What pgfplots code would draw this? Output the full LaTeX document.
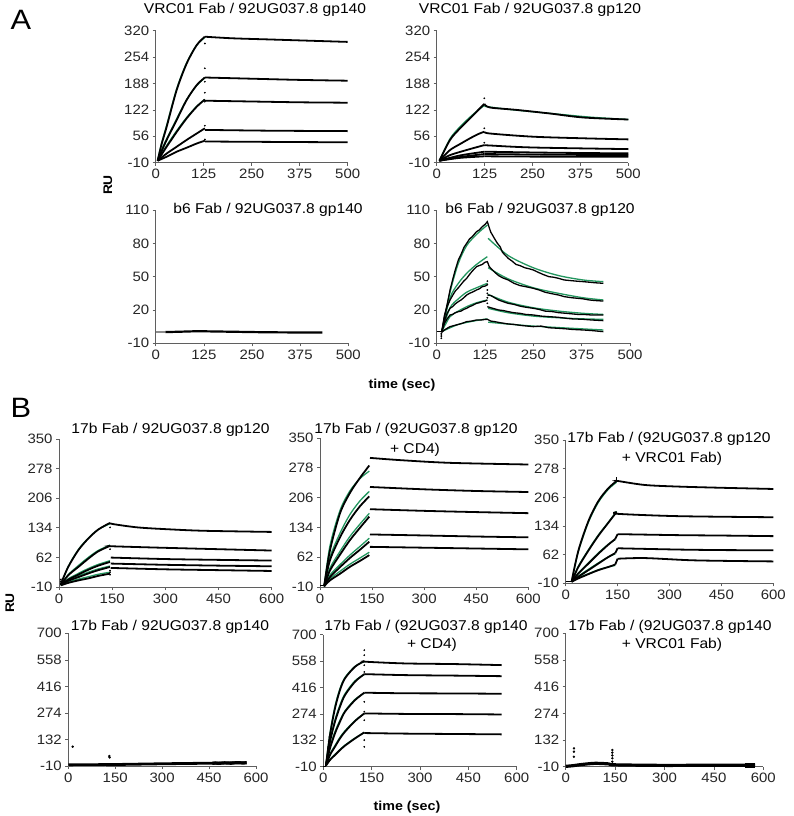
\documentclass[border=0pt]{standalone}
\usepackage{pgfplots}
\pgfplotsset{compat=1.18}
\usepackage{fontspec}
\setmainfont{Liberation Sans}[FakeStretch=1.1]
\definecolor{axgray}{RGB}{95,95,95}
\definecolor{fitgreen}{RGB}{35,150,95}
\newcommand{\tk}{\fontsize{13.6}{15}\selectfont}
\newcommand{\ttl}{\fontsize{14.2}{16}\selectfont}
\pgfplotsset{
  sprbase/.style={scale only axis, axis lines=left,
    axis line style={-, draw=axgray, line width=0.8pt},
    tick style={draw=axgray, line width=0.7pt}, tick align=outside,
    major tick length=3pt, ticklabel style={font=\tk, text=black!85},
    clip=false, enlargelimits=false},
  blk/.style={black, line width=1.8pt, smooth, no marks},
  grn/.style={fitgreen, line width=1.3pt, smooth, no marks},
  dots/.style={only marks, mark=*, mark size=0.65pt, black},
}
\begin{document}
\begin{tikzpicture}
\path[use as bounding box] (0,0) rectangle (793pt,-816pt);
% ================= A1 =================
\begin{axis}[sprbase, at={(155.7pt,-162.7pt)}, anchor=south west, width=192pt, height=132pt,
  xmin=0,xmax=500,ymin=-10,ymax=320, xtick={0,125,250,375,500}, xticklabels={0,125,250,375,500},
  ytick={-10,56,122,188,254,320}, yticklabels={-10,56,122,188,254,320}]
\addplot[grn] coordinates {(5,-5)(15,38)(28.6,84)(54.7,175)(80.7,240)(106.8,284)(128,303)};
\addplot[grn] coordinates {(5,-5)(15,22)(28.6,50)(54.7,100)(80.7,148)(106.8,183)(128,202)};
\addplot[grn] coordinates {(5,-5)(15,12)(28.6,33)(54.7,70)(80.7,103)(106.8,131)(128,148)};
\addplot[blk] coordinates {(5,-5)(15,35)(28.6,80)(54.7,172)(80.7,238)(106.8,284)(128,305)};
\addplot[blk] coordinates {(128,305)(200,301)(300,298)(400,295)(500,292)};
\addplot[blk] coordinates {(5,-5)(15,18)(28.6,47)(54.7,97)(80.7,147)(106.8,184)(128,203)};
\addplot[blk] coordinates {(128,203)(250,200)(375,197)(500,195)};
\addplot[blk] coordinates {(5,-5)(15,10)(28.6,30)(54.7,67)(80.7,101)(106.8,130)(128,148)};
\addplot[blk] coordinates {(128,145)(250,143)(375,141)(500,140)};
\addplot[blk] coordinates {(5,-5)(28.6,13)(54.7,30)(80.7,47)(106.8,63)(128,76)};
\addplot[blk] coordinates {(128,72)(300,70)(500,69)};
\addplot[blk] coordinates {(5,-5)(28.6,5)(54.7,17.5)(80.7,27.5)(106.8,38)(128,45)};
\addplot[blk] coordinates {(128,43)(300,42)(500,41)};
\addplot[dots] coordinates {(128,288)(128,226)(128,192.5)(128,165)(128,142.5)(128,82.5)(128,48)};
\end{axis}
% ================= A2 =================
\begin{axis}[sprbase, at={(436.7pt,-162.7pt)}, anchor=south west, width=191.6pt, height=132pt,
  xmin=0,xmax=500,ymin=-10,ymax=320, xtick={0,125,250,375,500}, xticklabels={0,125,250,375,500},
  ytick={-10,56,122,188,254,320}, yticklabels={-10,56,122,188,254,320}]
\addplot[grn] coordinates {(7,-5)(34.8,50)(61,80)(87,104)(108.7,122)(124.3,133)};
\addplot[grn] coordinates {(124.3,131)(200,122)(300,113)(400,104)(500,98)};
\addplot[blk] coordinates {(7,-5)(34.8,47)(61,76)(87,101)(108.7,122)(124.3,137)};
\addplot[blk] coordinates {(124.3,137)(139,128)(208.7,122)(295.6,113)(382.6,103)(500,98)};
\addplot[blk] coordinates {(7,-5)(34.8,21.7)(61,36.7)(87,51)(108.7,61.7)(124.3,67.5)};
\addplot[blk] coordinates {(124.3,67.5)(139,63)(252,55)(382.6,51)(500,48.3)};
\addplot[blk] coordinates {(7,-5)(34.8,9)(78,21.7)(124.3,34)};
\addplot[blk] coordinates {(124.3,34)(139,33)(252,28)(500,24)};
\addplot[blk] coordinates {(7,-5)(60,8)(124.3,17.5)};
\addplot[blk] coordinates {(124.3,17.5)(300,15)(500,13.3)};
\addplot[blk] coordinates {(7,-5)(60,4)(124.3,11.7)};
\addplot[blk] coordinates {(124.3,11.7)(300,10)(500,9)};
\addplot[blk] coordinates {(7,-5)(60,2)(124.3,6)};
\addplot[blk] coordinates {(124.3,6)(300,5)(500,5)};
\addplot[dots] coordinates {(124.3,151)(124.3,76)(124.3,40)};
\end{axis}
% ================= A3 =================
\begin{axis}[sprbase, at={(155.7pt,-343.3pt)}, anchor=south west, width=192.6pt, height=133.3pt,
  xmin=0,xmax=500,ymin=-10,ymax=110, xtick={0,125,250,375,500}, xticklabels={0,125,250,375,500},
  ytick={-10,20,50,80,110}, yticklabels={-10,20,50,80,110}]
\addplot[black!45, line width=2pt] coordinates {(0,0)(25,0)};
\addplot[blk, line width=2.2pt] coordinates {(25,0.1)(60,0.4)(100,0.8)(125,0.8)(200,0.4)(300,-0.1)(433,-0.3)};
\end{axis}
% ================= A4 =================
\begin{axis}[sprbase, at={(436.7pt,-343.3pt)}, anchor=south west, width=193.3pt, height=133.3pt,
  xmin=0,xmax=500,ymin=-10,ymax=110, xtick={0,125,250,375,500}, xticklabels={0,125,250,375,500},
  ytick={-10,20,50,80,110}, yticklabels={-10,20,50,80,110}]
\addplot[black, line width=1.5pt] coordinates {(0,0.5)(12,0.5)};
\addplot[dots] coordinates {(12,-1)(12,-2.5)(12,-4)(12,-5.5)};
% fits
\addplot[grn] coordinates {(13,0.5)(34.5,36)(56,62)(77.6,78)(103,88)(131,96.5)};
\addplot[grn] coordinates {(133,84.5)(185,69)(250,58)(315,51)(379,47)(431,45.5)};
\addplot[grn] coordinates {(13,0.5)(34.5,31)(56,44)(77.6,53)(103,61)(131,68)};
\addplot[grn] coordinates {(133,58)(185,48)(250,40)(315,35)(379,31)(431,29)};
\addplot[grn] coordinates {(13,0.5)(34.5,22)(56,30)(77.6,36)(103,40)(131,44)};
\addplot[grn] coordinates {(133,34)(185,27)(250,22)(315,19)(379,17)(431,16)};
\addplot[grn] coordinates {(13,0.5)(34.5,14)(56,19)(77.6,23)(103,26.5)(131,29)};
\addplot[grn] coordinates {(133,21.5)(185,17.5)(250,14.5)(315,13)(379,12)(431,11.6)};
\addplot[grn] coordinates {(13,0.5)(56,7)(103,10.5)(131,12)};
\addplot[grn] coordinates {(133,9)(250,5.5)(431,2)};
% data
\addplot[black, line width=1.3pt] coordinates {(13,0)(20,14)(27,25)(34.5,38)(41,47)(48,56)(56,65)(63,70)(70,76)(77.6,80)(85,84)(92,86)(103,90.5)(110,92)(118,95)(125,97)(131,99.5)
 (136,94)(140,90)(150,84)(157,80)(164,77)(170,72)(178,69)(185,66.5)(195,64)(205,61)(215,60)(228,58)(240,57)(250,56)(262,54)(275,52)(290,50)(302,49.5)(315,48.5)(330,47)(345,46.5)(360,46)(379,45.5)(395,45)(410,44.5)(431,44)};
\addplot[black, line width=1.3pt] coordinates {(13,0)(20,15)(27,23)(34.5,29)(41,33)(48,37)(56,40)(63,43)(70,46)(77.6,48.5)(85,52)(92,55)(103,59)(110,60)(118,61)(125,63)(131,63.5)
 (136,59)(140,57.5)(150,54)(160,51)(170,49)(185,47)(200,44)(215,42)(230,41)(250,39.5)(265,38)(280,36)(300,34.5)(315,33.5)(330,32)(350,31)(365,30.5)(379,30)(395,29)(410,28.5)(431,28)};
\addplot[black, line width=1.3pt] coordinates {(13,0)(20,10)(27,17)(34.5,21.5)(41,23)(48,25.5)(56,27.5)(63,29)(70,31)(77.6,33.5)(85,35)(92,36)(103,38)(110,39)(118,41)(125,41.5)(131,42.5)};
\addplot[black, line width=1.3pt] coordinates {(131,33.5)(140,33)(150,31)(160,29)(172,27.5)(185,26)(200,25)(215,23.5)(230,22.5)(250,21.5)(265,20.5)(280,19)(300,18.5)(315,17.6)(335,17)(350,16.5)(365,16)(379,16)(400,15.5)(431,15.5)};
\addplot[black, line width=1.3pt] coordinates {(13,0)(20,8)(27,12)(34.5,15.5)(41,16)(48,17.5)(56,18.5)(63,19)(70,20.5)(77.6,21.5)(85,23)(92,24)(103,26)(110,26.5)(118,27.5)(125,28)(131,29)};
\addplot[black, line width=1.3pt] coordinates {(131,23)(140,22)(150,21)(160,20)(172,19.5)(185,18.5)(200,17.5)(215,17)(230,16)(250,15.5)(270,14.5)(290,14)(315,13.4)(335,12.5)(350,12)(365,11.8)(379,11.6)(400,11)(431,10.4)};
\addplot[black, line width=1.3pt] coordinates {(13,0)(20,2)(27,3.5)(34.5,5)(45,6)(56,7)(66,8)(77.6,9.5)(90,10)(103,11)(115,11)(125,11.5)(131,11.6)
 (140,10)(150,9.5)(165,8.5)(185,7.4)(200,7)(220,6)(250,5)(270,5.5)(290,4)(315,3.5)(335,3)(350,2.5)(379,2)(400,1.5)(431,0.5)};
\addplot[dots] coordinates {(131,46)(131,43)(131,38)(131,35)(131,31)(131,26)};
\end{axis}
% ================= B1 =================
\begin{axis}[sprbase, at={(59pt,-587pt)}, anchor=south west, width=212.7pt, height=148pt,
  xmin=0,xmax=600,ymin=-10,ymax=350, xtick={0,150,300,450,600}, xticklabels={0,150,300,450,600},
  ytick={-10,62,134,206,278,350}, yticklabels={-10,62,134,206,278,350}]
\addplot[grn] coordinates {(5,-5)(26,40)(54.5,81)(82.8,109)(111,130)(144,144)};
\addplot[grn] coordinates {(5,-5)(26,20)(54.5,42)(82.8,62)(111,79)(144,92)};
\addplot[grn] coordinates {(5,-5)(26,10)(54.5,23)(82.8,35)(111,45)(144,54)};
\addplot[grn] coordinates {(5,-5)(26,7)(54.5,17)(82.8,26)(111,34)(144,41)};
\addplot[grn] coordinates {(5,-6)(26,2)(54.5,9)(82.8,15)(111,21)(144,26)};
\addplot[blk] coordinates {(5,-3)(26,38.8)(54.5,79.5)(82.8,108)(111,130)(144,146)};
\addplot[blk] coordinates {(144,146)(153,143)(224,134.8)(318,130)(412,126.7)(600,124)};
\addplot[blk] coordinates {(5,-5)(26,18.5)(54.5,38.8)(82.8,59)(111,77)(144,90)};
\addplot[blk] coordinates {(144,90)(153,89)(270,86)(412,82.8)(600,78.7)};
\addplot[blk] coordinates {(5,-5)(26,8)(54.5,20)(82.8,32)(111,42)(144,51)};
\addplot[blk] coordinates {(146,61.6)(300,58)(450,56)(600,54.3)};
\addplot[blk] coordinates {(5,-5)(26,5)(54.5,14)(82.8,23)(111,31)(144,38.8)};
\addplot[blk] coordinates {(146,47)(300,44)(450,42)(600,40.4)};
\addplot[blk] coordinates {(5,-6)(26,0)(54.5,6)(82.8,11)(111,17)(144,22.5)};
\addplot[blk] coordinates {(146,36.4)(300,33)(450,31)(600,29)};
\addplot[dots] coordinates {(144,135)(144,82)(144,30)(144,26)(144,20)(5,8)(5,3)(10,10)};
\end{axis}
% ================= B2 =================
\begin{axis}[sprbase, at={(320pt,-587pt)}, anchor=south west, width=208.3pt, height=149pt,
  xmin=0,xmax=600,ymin=-10,ymax=350, xtick={0,150,300,450,600}, xticklabels={0,150,300,450,600},
  ytick={-10,62,134,206,278,350}, yticklabels={-10,62,134,206,278,350}]
\addplot[black, line width=1.5pt] coordinates {(0,-6)(12,-6)};
\addplot[grn] coordinates {(12,-8)(28.8,90)(57.6,175)(86,222)(115,252)(142,270)};
\addplot[grn] coordinates {(12,-8)(28.8,62)(57.6,120)(86,165)(115,198)(142,221)};
\addplot[grn] coordinates {(12,-8)(28.8,36)(57.6,76)(86,112)(115,142)(142,168)};
\addplot[grn] coordinates {(12,-8)(28.8,19)(57.6,44)(86,67)(115,88)(142,108)};
\addplot[grn] coordinates {(12,-8)(28.8,10)(57.6,28)(86,45)(115,60)(142,74)};
\addplot[blk] coordinates {(12,-8)(28.8,79)(57.6,168)(86,217)(115,253.6)(142,283.6)};
\addplot[blk] coordinates {(144,302)(230,296.6)(374,290)(600,286)};
\addplot[blk] coordinates {(12,-8)(28.8,55)(57.6,110)(86,152)(115,185)(142,209)};
\addplot[blk] coordinates {(144,231.7)(300,226)(450,222)(600,219.5)};
\addplot[blk] coordinates {(12,-8)(28.8,30)(57.6,68)(86,103)(115,133)(142,160)};
\addplot[blk] coordinates {(144,178)(300,174)(450,171)(600,168.4)};
\addplot[blk] coordinates {(12,-8)(28.8,14)(57.6,38)(86,60)(115,80)(142,99.5)};
\addplot[blk] coordinates {(144,117)(300,114.5)(450,112)(600,110)};
\addplot[blk] coordinates {(12,-8)(28.8,6)(57.6,22)(86,38.7)(115,53)(142,67)};
\addplot[blk] coordinates {(144,87)(300,85)(450,83)(600,81)};
\end{axis}
% ================= B3 =================
\begin{axis}[sprbase, at={(565.7pt,-583.3pt)}, anchor=south west, width=207.6pt, height=143.3pt,
  xmin=0,xmax=600,ymin=-10,ymax=350, xtick={0,150,300,450,600}, xticklabels={0,150,300,450,600},
  ytick={-10,62,134,206,278,350}, yticklabels={-10,62,134,206,278,350}]
\addplot[black, line width=1.5pt] coordinates {(0,-6)(17,-6)};
\addplot[grn] coordinates {(17,-6)(36.6,70)(65.5,143)(94,193)(123,226)(147,244)};
\addplot[grn] coordinates {(17,-6)(36.6,33)(65.5,74)(94,111)(123,143)(147,171)};
\addplot[grn] coordinates {(17,-6)(36.6,16)(65.5,41)(94,66)(123,88)(143,100)};
\addplot[grn] coordinates {(17,-6)(36.6,8)(65.5,25)(94,41)(123,56)(143,64)};
\addplot[grn] coordinates {(17,-6)(36.6,4)(65.5,14)(94,24)(123,31)(143,35)};
\addplot[blk] coordinates {(17,-6)(36.6,72)(65.5,146)(94,196)(123,228.7)(147,246.8)};
\addplot[blk] coordinates {(147,246.8)(151,247)(229,237)(325.5,233)(450,230)(600,227)};
\addplot[black, line width=1.3pt] coordinates {(147,244)(147,258)};
\addplot[blk] coordinates {(17,-6)(36.6,31)(65.5,72)(94,109)(123,142)(147,169)};
\addplot[blk] coordinates {(147,169)(151,164.5)(325,158.7)(600,156)};
\addplot[blk] coordinates {(17,-6)(36.6,14.7)(65.5,39.4)(94,64)(123,87)(143,101)};
\addplot[black, line width=1.8pt] coordinates {(143,101)(150,113.5)};
\addplot[blk] coordinates {(150,113.5)(325,111)(450,110)(600,108.5)};
\addplot[blk] coordinates {(17,-6)(36.6,6.5)(65.5,23)(94,39.4)(123,56)(143,65.7)};
\addplot[black, line width=1.8pt] coordinates {(143,65.7)(150,78)};
\addplot[blk] coordinates {(150,78)(325,74.8)(450,73.5)(600,73)};
\addplot[blk] coordinates {(17,-6)(36.6,2.3)(65.5,13)(94,23)(123,31)(143,37)};
\addplot[black, line width=1.8pt] coordinates {(143,37)(150,51.7)};
\addplot[blk] coordinates {(150,51.7)(229,53.4)(375,47.6)(600,45)};
\end{axis}
% ================= B4 =================
\begin{axis}[sprbase, at={(68.3pt,-766pt)}, anchor=south west, width=187.7pt, height=132.7pt,
  xmin=0,xmax=600,ymin=-10,ymax=700, xtick={0,150,300,450,600}, xticklabels={0,150,300,450,600},
  ytick={-10,132,274,416,558,700}, yticklabels={-10,132,274,416,558,700}]
\addplot[black!45, line width=2pt] coordinates {(0,-8)(120,-8)};
\addplot[black, line width=2.8pt] coordinates {(0,-4)(150,-2)(300,2)(450,5)(570,8)};
\addplot[black, line width=3.2pt] coordinates {(460,4)(470,6)(480,4)(500,7)(520,5)(540,8)(560,6)(570,8)};
\addplot[dots, mark size=1pt] coordinates {(14,93.5)(131,43.5)(132,36)};
\end{axis}
% ================= B5 =================
\begin{axis}[sprbase, at={(323.3pt,-766.7pt)}, anchor=south west, width=193.4pt, height=132pt,
  xmin=0,xmax=600,ymin=-10,ymax=700, xtick={0,150,300,450,600}, xticklabels={0,150,300,450,600},
  ytick={-10,132,274,416,558,700}, yticklabels={-10,132,274,416,558,700}]
\addplot[black, line width=1.5pt] coordinates {(0,-8)(8,-8)};
\addplot[grn] coordinates {(8,-5)(20.7,170)(36.2,315)(51.7,410)(67.2,470)(98.3,530)(127.2,555)};
\addplot[grn] coordinates {(8,-5)(20.7,132)(36.2,242)(51.7,322)(67.2,382)(98.3,452)(127.2,486)};
\addplot[grn] coordinates {(8,-5)(20.7,95)(36.2,178)(51.7,240)(67.2,290)(98.3,352)(127.2,386)};
\addplot[grn] coordinates {(8,-5)(20.7,58)(36.2,104)(51.7,148)(67.2,183)(98.3,238)(127.2,276)};
\addplot[grn] coordinates {(8,-5)(20.7,30)(36.2,56)(51.7,82)(67.2,106)(98.3,144)(127.2,174)};
\addplot[blk] coordinates {(8,-5)(20.7,160)(36.2,303.6)(51.7,402)(67.2,465)(98.3,527.5)(127.2,558)};
\addplot[blk] coordinates {(127.2,558)(134.5,554.4)(253.4,545.5)(408.6,542)(553.5,536.5)};
\addplot[blk] coordinates {(8,-5)(20.7,124)(36.2,232)(51.7,312.5)(67.2,375)(98.3,447)(127.2,488)};
\addplot[blk] coordinates {(127.2,488)(253.4,482.7)(408.6,480)(553.5,477)};
\addplot[blk] coordinates {(8,-5)(20.7,88.5)(36.2,169)(51.7,232)(67.2,285.6)(98.3,348)(127.2,388)};
\addplot[blk] coordinates {(127.2,388)(253.4,385)(408.6,384)(553.5,382.4)};
\addplot[blk] coordinates {(8,-5)(20.7,52.7)(36.2,97.5)(51.7,142)(67.2,178)(98.3,235.5)(127.2,276.7)};
\addplot[blk] coordinates {(127.2,276.7)(253.4,274)(408.6,273)(553.5,271)};
\addplot[blk] coordinates {(8,-5)(20.7,26)(36.2,52.7)(51.7,79.6)(67.2,103)(98.3,142)(127.2,174.5)};
\addplot[blk] coordinates {(127.2,171)(253.4,168)(408.6,166)(553.5,164)};
\addplot[dots] coordinates {(127.2,617)(127.2,590)(127.2,536)(127.2,500)(127.2,339)(127.2,286)(127.2,240)(127.2,133)(127.2,97)(14,70)(15,95)(17,125)(19,150)};
\end{axis}
% ================= B6 =================
\begin{axis}[sprbase, at={(565.7pt,-766.7pt)}, anchor=south west, width=197.6pt, height=133.4pt,
  xmin=0,xmax=600,ymin=-10,ymax=700, xtick={0,150,300,450,600}, xticklabels={0,150,300,450,600},
  ytick={-10,132,274,416,558,700}, yticklabels={-10,132,274,416,558,700}]
\addplot[black, line width=3.2pt, smooth] coordinates {(0,-8)(20,-5)(50,2)(89,8)(130,5)(150,0)(300,-3)(450,-2)(575,-2)};
\addplot[black, line width=5pt] coordinates {(545,-2)(575,-2)};
\addplot[dots, mark size=1pt] coordinates {(25,87.6)(25,70)(25,43)(141.6,79)(141.6,65)(141.6,50)(141.6,35)(141.6,17)};
\end{axis}
% ================= text =================
\node[font=\fontsize{28}{30}\selectfont] at (21pt,-20pt) {A};
\node[font=\fontsize{28}{30}\selectfont] at (21pt,-407.5pt) {B};
\node[font=\ttl] at (255pt,-10pt) {VRC01 Fab / 92UG037.8 gp140};
\node[font=\ttl] at (530pt,-10pt) {VRC01 Fab / 92UG037.8 gp120};
\node[font=\ttl] at (268pt,-210pt) {b6 Fab / 92UG037.8 gp140};
\node[font=\ttl] at (540pt,-210pt) {b6 Fab / 92UG037.8 gp120};
\node[font=\ttl] at (170.5pt,-430pt) {17b Fab / 92UG037.8 gp120};
\node[font=\ttl] at (416pt,-430pt) {17b Fab / (92UG037.8 gp120};
\node[font=\ttl] at (415pt,-450pt) {+ CD4)};
\node[font=\ttl] at (669pt,-439pt) {17b Fab / (92UG037.8 gp120};
\node[font=\ttl] at (672pt,-459pt) {+ VRC01 Fab)};
\node[font=\ttl] at (170pt,-626.7pt) {17b Fab / 92UG037.8 gp140};
\node[font=\ttl] at (426pt,-627pt) {17b Fab / (92UG037.8 gp140};
\node[font=\ttl] at (432pt,-645pt) {+ CD4)};
\node[font=\ttl] at (670pt,-627pt) {17b Fab / (92UG037.8 gp140};
\node[font=\ttl] at (672pt,-645pt) {+ VRC01 Fab)};
\node[font=\fontsize{12.5}{14}\selectfont\bfseries, rotate=90] at (108pt,-185pt) {RU};
\node[font=\fontsize{12.5}{14}\selectfont\bfseries, rotate=90] at (10pt,-603pt) {RU};
\node[font=\fontsize{13}{15}\selectfont\bfseries] at (402pt,-385pt) {time (sec)};
\node[font=\fontsize{13}{15}\selectfont\bfseries] at (407pt,-807pt) {time (sec)};
\end{tikzpicture}
\end{document}
